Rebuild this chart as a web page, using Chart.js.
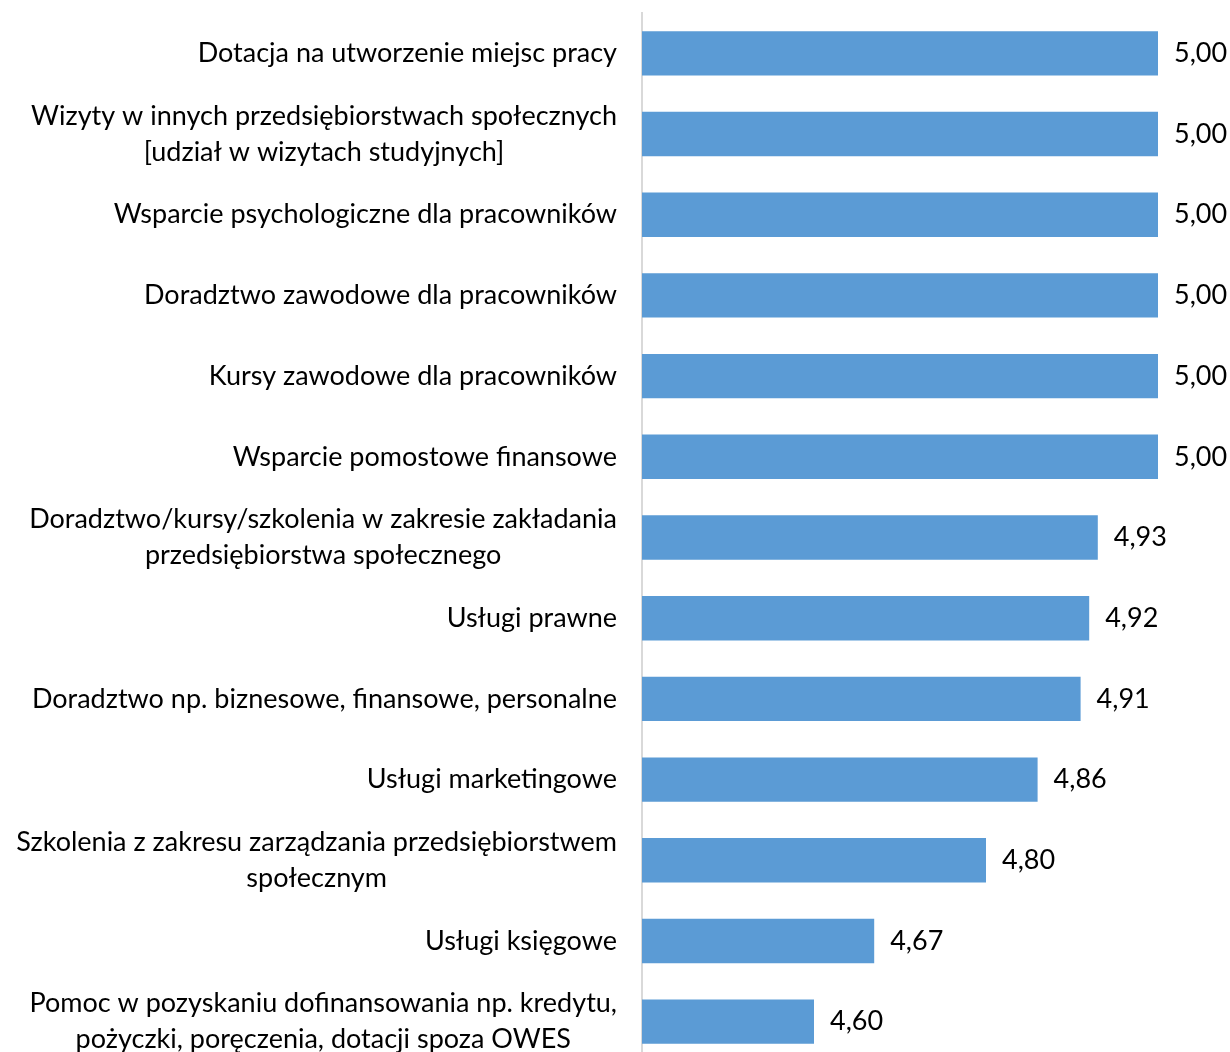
<!DOCTYPE html>
<html>
<head>
<meta charset="utf-8">
<script src="https://cdn.jsdelivr.net/npm/chart.js@4/dist/chart.umd.min.js"></script>
<style>
    html, body { margin: 0; padding: 0; background: #fff; overflow: hidden; }
    #wrap { width: 1230px; height: 1062px; position: relative; }
</style>
</head>
<body>
<div id="wrap"><canvas id="chart" width="1230" height="1062"></canvas></div>
<script>
// Category names (one entry per line of text)
const categories = [
    ['Dotacja na utworzenie miejsc pracy'],
    ['Wizyty w innych przedsiębiorstwach społecznych', '[udział w wizytach studyjnych]'],
    ['Wsparcie psychologiczne dla pracowników'],
    ['Doradztwo zawodowe dla pracowników'],
    ['Kursy zawodowe dla pracowników'],
    ['Wsparcie pomostowe finansowe'],
    ['Doradztwo/kursy/szkolenia w zakresie zakładania', 'przedsiębiorstwa społecznego'],
    ['Usługi prawne'],
    ['Doradztwo np. biznesowe, finansowe, personalne'],
    ['Usługi marketingowe'],
    ['Szkolenia z zakresu zarządzania przedsiębiorstwem', 'społecznym'],
    ['Usługi księgowe'],
    ['Pomoc w pozyskaniu dofinansowania np. kredytu,', 'pożyczki, poręczenia, dotacji spoza OWES']
];

const scores = [5.00, 5.00, 5.00, 5.00, 5.00, 5.00, 4.93, 4.92, 4.91, 4.86, 4.80, 4.67, 4.60];

const FONT = '27px Lato, "Open Sans", sans-serif';
const LINE_H = 36;

function fmt(v) {
    return v.toFixed(2).replace('.', ',');
}

// Category labels: block right-aligned against the axis, lines centered inside it
const categoryLabels = {
    id: 'categoryLabels',
    afterDraw(chart) {
        const ctx = chart.ctx;
        const yScale = chart.scales.y;
        const right = chart.chartArea.left - 25;
        ctx.save();
        ctx.font = FONT;
        ctx.fillStyle = '#000';
        ctx.textAlign = 'center';
        ctx.textBaseline = 'middle';
        categories.forEach((lines, i) => {
            const y = yScale.getPixelForTick(i);
            const w = Math.max(...lines.map(l => ctx.measureText(l).width));
            const cx = right - w / 2;
            const top = y - (lines.length - 1) * LINE_H / 2;
            lines.forEach((l, j) => ctx.fillText(l, cx, top + j * LINE_H));
        });
        ctx.restore();
    }
};

// Value labels to the right of each bar
const valueLabels = {
    id: 'valueLabels',
    afterDatasetsDraw(chart) {
        const ctx = chart.ctx;
        const meta = chart.getDatasetMeta(0);
        ctx.save();
        ctx.font = FONT;
        ctx.fillStyle = '#000';
        ctx.textAlign = 'left';
        ctx.textBaseline = 'middle';
        meta.data.forEach((bar, i) => {
            ctx.fillText(fmt(scores[i]), bar.x + 16, bar.y);
        });
        ctx.restore();
    }
};

new Chart(document.getElementById('chart'), {
    type: 'bar',
    data: {
        labels: categories.map(c => c.join(' ')),
        datasets: [{
            data: scores,
            backgroundColor: '#5B9BD5',
            borderWidth: 0,
            barPercentage: 0.55,
            categoryPercentage: 1.0
        }]
    },
    options: {
        indexAxis: 'y',
        responsive: false,
        animation: false,
        layout: { padding: { top: 13, right: 72, bottom: 0, left: 0 } },
        plugins: {
            legend: { display: false },
            tooltip: { enabled: false }
        },
        scales: {
            x: {
                display: false,
                min: 4.4,
                max: 5.0
            },
            y: {
                grid: { display: false },
                border: { display: true, color: '#d9d9d9', width: 2 },
                ticks: { display: false },
                afterFit(scale) { scale.width = 642; }
            }
        }
    },
    plugins: [categoryLabels, valueLabels]
});
</script>
</body>
</html>
